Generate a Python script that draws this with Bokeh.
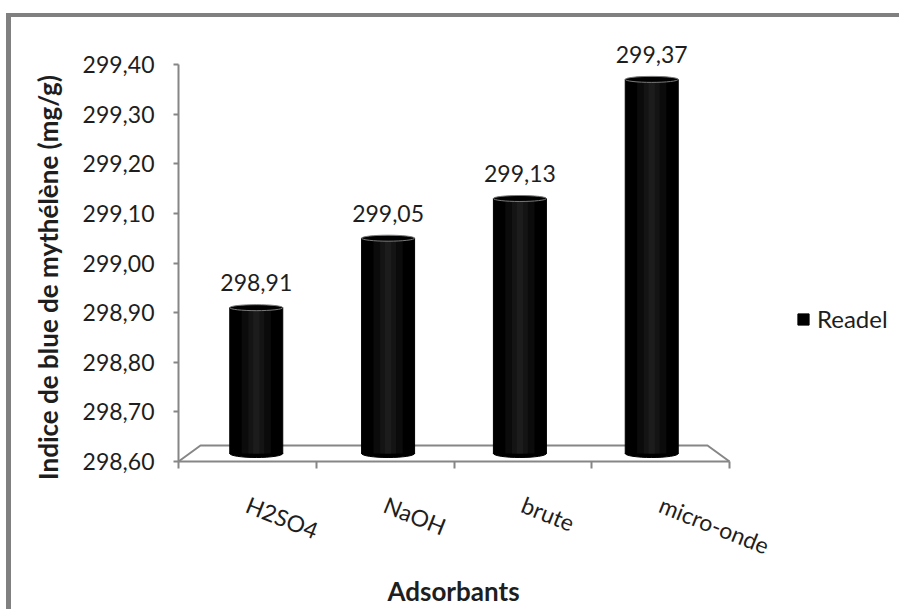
import math
from bokeh.plotting import figure
from bokeh.models import (Range1d, FixedTicker, CustomJSTickFormatter,
                          ColumnDataSource, Legend, LegendItem)
from bokeh.core.properties import value
from bokeh.embed import file_html
from bokeh.resources import INLINE

# ---- data ----
categories = ["H2SO4", "NaOH", "brute", "micro-onde"]
values = [298.91, 299.05, 299.13, 299.37]
value_labels = ["298,91", "299,05", "299,13", "299,37"]
series_name = "Readel"
y_ticks = [298.6, 298.7, 298.8, 298.9, 299.0, 299.1, 299.2, 299.3, 299.4]
x_title = "Adsorbants"
y_title = "Indice de blue de mythélène (mg/g)"

FONT = "Lato"
GRAY = "#868686"
TXT = "#1e1e1e"

n = len(categories)
y0, y1 = y_ticks[0], y_ticks[-1]

# layout (page pixels)
OX, OY = 11, 17                      # canvas origin inside the chart border
AX_LEFT, AX_BOTTOM, AX_TOP = 178, 461, 64
CAT_PX = (729 - AX_LEFT) / n
PX = (AX_BOTTOM - AX_TOP) / (y1 - y0)   # px per data unit

def xd(px):   # page px -> data x
    return (px - AX_LEFT) / CAT_PX

def yd(py):   # page py -> data y
    return y0 + (AX_BOTTOM - py) / PX

def dy(px):
    return px / PX

W, H = 904 - OX, 613 - OY
p = figure(width=W, height=H,
           x_range=Range1d(xd(OX), xd(904)), y_range=Range1d(yd(613), yd(OY)),
           output_backend="svg", toolbar_location=None,
           min_border_left=0, min_border_right=0, min_border_top=0,
           min_border_bottom=0)
p.styles = {"margin-left": "6px", "margin-top": "13px",
            "border-left": "5px solid #808080", "border-top": "4px solid #808080"}
p.outline_line_color = None
p.xgrid.visible = False
p.ygrid.visible = False
p.background_fill_color = "white"
p.border_fill_color = "white"

# y axis
p.yaxis.fixed_location = 0
p.yaxis.bounds = (y0, y1)
p.yaxis.ticker = FixedTicker(ticks=y_ticks)
p.yaxis.formatter = CustomJSTickFormatter(code="return tick.toFixed(2).replace('.', ',');")
p.yaxis.axis_line_color = GRAY
p.yaxis.axis_line_width = 2
p.yaxis.major_tick_line_color = GRAY
p.yaxis.major_tick_line_width = 2
p.yaxis.major_tick_out = 5
p.yaxis.major_tick_in = 0
p.yaxis.minor_tick_line_color = None
p.yaxis.major_label_text_font = FONT
p.yaxis.major_label_text_font_size = "23px"
p.yaxis.major_label_text_color = TXT
p.yaxis.major_label_standoff = 19

# x axis: boundary ticks as minor ticks, category names at centres
p.xaxis.fixed_location = y0
p.xaxis.bounds = (0, n)
p.xaxis.ticker = FixedTicker(ticks=[i + 0.5 for i in range(n)],
                             minor_ticks=list(range(n + 1)))
p.xaxis.formatter = CustomJSTickFormatter(args=dict(cats=categories),
                                          code="return cats[Math.floor(tick)];")
p.xaxis.axis_line_color = GRAY
p.xaxis.axis_line_width = 2
p.xaxis.major_tick_line_color = None
p.xaxis.major_tick_out = 0
p.xaxis.major_tick_in = 0
p.xaxis.minor_tick_line_color = GRAY
p.xaxis.minor_tick_line_width = 2
p.xaxis.minor_tick_out = 7
p.xaxis.minor_tick_in = 0
p.xaxis.major_label_orientation = -0.38
p.xaxis.major_label_standoff = 35
p.xaxis.major_label_text_font = FONT
p.xaxis.major_label_text_font_size = "23px"
p.xaxis.major_label_text_color = TXT

# axis titles
p.text(x=[xd(453)], y=[yd(606)], text=[x_title], text_align="center",
       text_baseline="bottom", text_font=value(FONT), text_font_style="bold",
       text_font_size="26px", text_color=TXT)
p.text(x=[xd(47)], y=[yd(277)], text=[y_title], angle=math.pi / 2,
       text_align="center", text_baseline="middle", text_font=value(FONT),
       text_font_style="bold", text_font_size="26px", text_color=TXT)

# floor (3D base)
off_x = 22 / CAT_PX
p.line(x=[0, off_x, n - off_x, n], y=[y0, y0 + dy(16), y0 + dy(16), y0],
       line_color=GRAY, line_width=2)

# cylinder bars (set back half-way into the floor depth)
depth_scale = 0.957
bx = [n / 2 + (i + 0.5 - n / 2) * depth_scale for i in range(n)]
bw = 53 / CAT_PX
base = y0 + dy(8)
src = ColumnDataSource(dict(x=bx, top=values, bottom=[base] * n, lab=value_labels,
                            ly=[v + dy(25) for v in values]))
r = p.vbar(x="x", top="top", bottom="bottom", width=bw, source=src,
           fill_color="black", line_color="black")
p.ellipse(x="x", y="bottom", width=bw, height=dy(8), source=src,
          fill_color="black", line_color="black")
for frac, col in [(0.55, "#0b0b0b"), (0.3, "#141414"), (0.12, "#1c1c1c")]:
    p.vbar(x="x", top="top", bottom="bottom", width=bw * frac, source=src,
           fill_color=col, line_color=None)
p.ellipse(x="x", y="top", width=bw, height=dy(6), source=src,
          fill_color="black", line_color="#7a7a7a", line_width=1)

# value labels
p.text(x="x", y="ly", text="lab", source=src, text_align="center",
       text_baseline="middle", text_font_size="23px", text_color=TXT,
       text_font=value(FONT))

# legend
legend = Legend(items=[LegendItem(label=series_name, renderers=[r])],
                location=(796 - OX, 613 - 333), border_line_color=None,
                background_fill_alpha=0, label_text_font=FONT,
                label_text_font_size="24px", label_text_color=TXT,
                glyph_width=14, glyph_height=14, padding=0, margin=0,
                label_standoff=7)
p.add_layout(legend, "center")

open("out.html", "w").write(file_html(p, INLINE))
